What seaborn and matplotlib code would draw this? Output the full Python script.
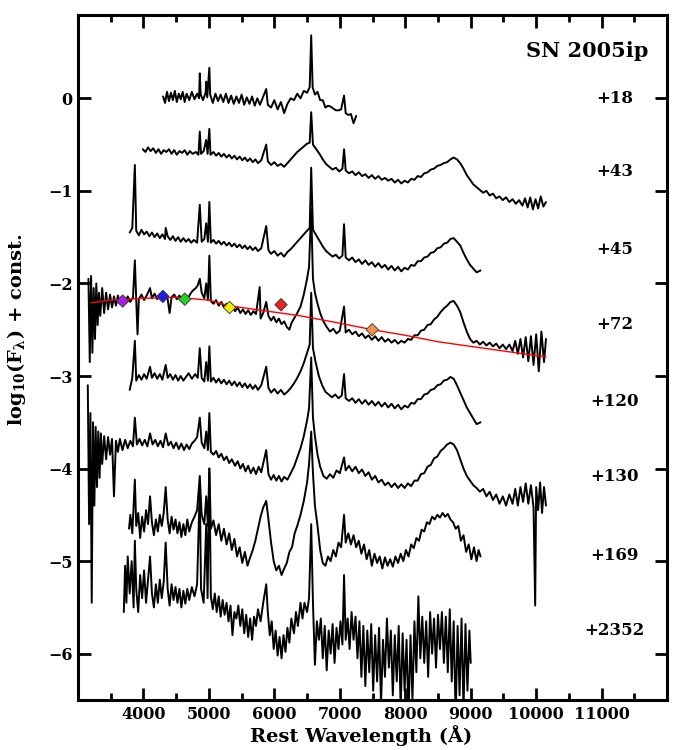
import matplotlib
matplotlib.use("Agg")
import matplotlib.pyplot as plt
import seaborn as sns
import pandas as pd
from matplotlib.ticker import MultipleLocator, FixedLocator

# ---------------- data ----------------
wl_18 = [4300, 4330, 4360, 4390, 4420, 4450, 4480, 4510, 4540, 4570, 4600, 4630, 4660, 4700, 4740, 4780, 4820, 4850, 4861, 4875, 4910, 4950, 4959, 4975, 5007, 5020, 5060, 5100, 5140, 5180, 5220, 5260, 5300, 5340, 5380, 5420, 5460, 5500, 5540, 5580, 5620, 5660, 5700, 5740, 5780, 5876, 5900, 5950, 6000, 6050, 6100, 6150, 6200, 6250, 6300, 6350, 6400, 6450, 6500, 6540, 6563, 6585, 6620, 6660, 6700, 6740, 6780, 6820, 6860, 6900, 6940, 6980, 7020, 7065, 7090, 7130, 7170, 7210, 7250]
fx_18 = [0.02, -0.05, 0.07, -0.03, 0.06, -0.02, 0.08, -0.04, 0.05, -0.01, 0.07, -0.04, 0.05, -0.02, 0.07, -0.01, 0.05, 0.00, 0.27, 0.04, -0.02, 0.06, 0.18, 0.01, 0.33, 0.04, -0.05, 0.05, -0.03, 0.04, -0.04, 0.05, -0.05, 0.03, -0.06, 0.02, -0.05, 0.04, -0.07, 0.01, -0.06, 0.02, -0.08, 0.00, -0.07, 0.10, -0.07, -0.10, -0.02, -0.12, -0.04, -0.16, -0.06, 0.00, -0.02, 0.05, 0.00, 0.08, 0.06, 0.12, 0.68, 0.12, 0.04, 0.07, -0.02, -0.02, -0.10, -0.08, -0.09, -0.11, -0.13, -0.13, -0.12, 0.03, -0.16, -0.18, -0.17, -0.27, -0.19]

wl_43 = [3990, 4030, 4070, 4110, 4150, 4190, 4230, 4270, 4310, 4350, 4390, 4430, 4470, 4510, 4550, 4590, 4630, 4670, 4710, 4750, 4800, 4840, 4861, 4880, 4920, 4959, 4980, 5007, 5025, 5070, 5110, 5150, 5190, 5230, 5270, 5310, 5350, 5390, 5430, 5470, 5510, 5550, 5590, 5630, 5670, 5710, 5750, 5800, 5876, 5900, 5950, 6000, 6050, 6100, 6150, 6200, 6250, 6300, 6350, 6400, 6450, 6500, 6540, 6563, 6590, 6640, 6690, 6740, 6790, 6840, 6890, 6940, 6990, 7040, 7065, 7090, 7140, 7190, 7240, 7290, 7340, 7390, 7440, 7490, 7540, 7590, 7640, 7690, 7740, 7790, 7840, 7890, 7940, 7990, 8040, 8090, 8140, 8190, 8240, 8290, 8340, 8390, 8440, 8490, 8540, 8590, 8640, 8690, 8740, 8790, 8840, 8890, 8940, 8990, 9040, 9090, 9140, 9190, 9240, 9290, 9340, 9390, 9440, 9490, 9540, 9590, 9640, 9690, 9740, 9790, 9830, 9870, 9910, 9950, 9990, 10030, 10070, 10110, 10150]
fx_43 = [-0.55, -0.58, -0.53, -0.57, -0.54, -0.59, -0.55, -0.60, -0.56, -0.58, -0.55, -0.60, -0.56, -0.61, -0.57, -0.59, -0.56, -0.61, -0.57, -0.60, -0.58, -0.61, -0.36, -0.60, -0.57, -0.45, -0.60, -0.33, -0.61, -0.58, -0.62, -0.59, -0.63, -0.60, -0.64, -0.61, -0.65, -0.62, -0.66, -0.63, -0.67, -0.64, -0.68, -0.65, -0.69, -0.66, -0.70, -0.67, -0.50, -0.68, -0.72, -0.69, -0.73, -0.71, -0.74, -0.70, -0.66, -0.62, -0.58, -0.55, -0.52, -0.49, -0.48, -0.15, -0.50, -0.55, -0.60, -0.66, -0.71, -0.74, -0.77, -0.75, -0.79, -0.76, -0.55, -0.78, -0.81, -0.79, -0.83, -0.80, -0.84, -0.82, -0.86, -0.83, -0.87, -0.84, -0.88, -0.86, -0.89, -0.87, -0.91, -0.88, -0.92, -0.89, -0.91, -0.87, -0.88, -0.84, -0.85, -0.81, -0.80, -0.77, -0.76, -0.73, -0.72, -0.70, -0.69, -0.66, -0.64, -0.66, -0.70, -0.76, -0.83, -0.88, -0.93, -0.96, -0.99, -1.02, -1.00, -1.05, -1.03, -1.08, -1.06, -1.10, -1.07, -1.12, -1.09, -1.14, -1.10, -1.16, -1.08, -1.18, -1.07, -1.20, -1.09, -1.19, -1.06, -1.17, -1.12]

wl_45 = [3790, 3830, 3869, 3890, 3930, 3970, 4010, 4050, 4090, 4130, 4170, 4210, 4250, 4290, 4330, 4340, 4370, 4410, 4450, 4490, 4530, 4570, 4610, 4650, 4690, 4730, 4770, 4820, 4861, 4890, 4930, 4959, 4985, 5007, 5030, 5070, 5110, 5150, 5190, 5230, 5270, 5310, 5350, 5390, 5430, 5470, 5510, 5550, 5590, 5630, 5670, 5710, 5750, 5800, 5876, 5910, 5950, 6000, 6050, 6100, 6150, 6200, 6250, 6300, 6350, 6400, 6450, 6500, 6540, 6563, 6590, 6640, 6690, 6740, 6790, 6840, 6890, 6940, 6990, 7040, 7065, 7090, 7140, 7190, 7240, 7290, 7340, 7390, 7440, 7490, 7540, 7590, 7640, 7690, 7740, 7790, 7840, 7890, 7940, 7990, 8040, 8090, 8140, 8190, 8240, 8290, 8340, 8390, 8440, 8490, 8540, 8590, 8640, 8690, 8740, 8790, 8840, 8890, 8940, 8990, 9040, 9090, 9150]
fx_45 = [-1.45, -1.40, -0.72, -1.43, -1.48, -1.42, -1.47, -1.44, -1.49, -1.45, -1.50, -1.46, -1.51, -1.47, -1.52, -1.40, -1.49, -1.53, -1.49, -1.54, -1.50, -1.55, -1.51, -1.55, -1.52, -1.56, -1.53, -1.56, -1.15, -1.55, -1.52, -1.35, -1.55, -1.12, -1.56, -1.53, -1.57, -1.54, -1.58, -1.55, -1.59, -1.56, -1.60, -1.57, -1.61, -1.58, -1.62, -1.59, -1.63, -1.60, -1.64, -1.61, -1.65, -1.62, -1.38, -1.64, -1.68, -1.65, -1.70, -1.67, -1.71, -1.66, -1.63, -1.59, -1.55, -1.51, -1.47, -1.43, -1.40, -0.75, -1.42, -1.48, -1.54, -1.60, -1.65, -1.68, -1.71, -1.69, -1.73, -1.70, -1.36, -1.72, -1.75, -1.72, -1.77, -1.74, -1.79, -1.75, -1.80, -1.77, -1.82, -1.78, -1.83, -1.80, -1.85, -1.81, -1.86, -1.82, -1.87, -1.83, -1.85, -1.80, -1.81, -1.76, -1.76, -1.72, -1.71, -1.67, -1.66, -1.62, -1.61, -1.57, -1.56, -1.52, -1.51, -1.55, -1.59, -1.67, -1.74, -1.80, -1.84, -1.88, -1.86]

wl_72 = [3160, 3180, 3200, 3220, 3240, 3260, 3280, 3300, 3320, 3340, 3370, 3400, 3430, 3460, 3490, 3520, 3550, 3580, 3610, 3640, 3680, 3720, 3760, 3800, 3840, 3869, 3890, 3910, 3930, 3970, 4010, 4050, 4101, 4130, 4170, 4210, 4250, 4290, 4330, 4370, 4400, 4430, 4470, 4510, 4550, 4590, 4630, 4670, 4710, 4750, 4800, 4830, 4861, 4890, 4930, 4959, 4985, 5007, 5030, 5070, 5110, 5150, 5190, 5230, 5270, 5310, 5350, 5400, 5440, 5480, 5520, 5560, 5600, 5640, 5680, 5720, 5776, 5790, 5830, 5876, 5910, 5950, 5990, 6030, 6070, 6110, 6150, 6190, 6230, 6260, 6300, 6350, 6400, 6450, 6500, 6530, 6563, 6590, 6620, 6660, 6700, 6750, 6800, 6850, 6900, 6950, 7000, 7065, 7090, 7140, 7190, 7240, 7290, 7340, 7390, 7440, 7490, 7540, 7590, 7640, 7690, 7740, 7790, 7840, 7890, 7940, 7990, 8040, 8090, 8140, 8190, 8240, 8290, 8340, 8390, 8440, 8490, 8540, 8590, 8640, 8690, 8740, 8790, 8840, 8890, 8940, 8990, 9040, 9090, 9140, 9190, 9240, 9290, 9340, 9390, 9440, 9490, 9540, 9590, 9640, 9680, 9720, 9760, 9800, 9840, 9880, 9920, 9960, 10000, 10040, 10080, 10120, 10150]
fx_72 = [-1.95, -2.85, -1.92, -2.75, -2.05, -2.60, -2.00, -2.45, -2.10, -2.35, -2.05, -2.32, -2.10, -2.28, -2.12, -2.26, -2.14, -2.24, -2.13, -2.22, -2.15, -2.21, -2.14, -2.20, -2.15, -1.75, -2.18, -2.55, -2.17, -2.12, -2.18, -2.13, -2.05, -2.16, -2.11, -2.17, -2.12, -2.16, -2.11, -2.17, -2.32, -2.15, -2.12, -2.17, -2.13, -2.18, -2.14, -2.18, -2.12, -2.08, -2.05, -2.02, -1.95, -2.10, -2.16, -2.00, -2.18, -1.70, -2.19, -2.22, -2.18, -2.24, -2.20, -2.26, -2.22, -2.28, -2.24, -2.30, -2.26, -2.32, -2.28, -2.33, -2.29, -2.34, -2.30, -2.33, -2.04, -2.38, -2.32, -2.20, -2.35, -2.40, -2.36, -2.42, -2.38, -2.44, -2.41, -2.47, -2.50, -2.43, -2.38, -2.32, -2.25, -2.12, -1.95, -1.82, -1.20, -1.95, -2.10, -2.22, -2.32, -2.41, -2.47, -2.52, -2.49, -2.54, -2.51, -2.25, -2.53, -2.50, -2.55, -2.52, -2.57, -2.54, -2.59, -2.56, -2.61, -2.57, -2.62, -2.58, -2.63, -2.60, -2.64, -2.61, -2.65, -2.62, -2.64, -2.60, -2.61, -2.56, -2.56, -2.51, -2.50, -2.45, -2.44, -2.39, -2.36, -2.31, -2.27, -2.24, -2.20, -2.19, -2.24, -2.31, -2.42, -2.52, -2.60, -2.64, -2.62, -2.66, -2.63, -2.67, -2.64, -2.68, -2.65, -2.70, -2.66, -2.71, -2.66, -2.73, -2.62, -2.76, -2.60, -2.80, -2.58, -2.84, -2.57, -2.88, -2.55, -2.95, -2.52, -2.85, -2.60]

wl_120 = [3790, 3830, 3869, 3890, 3930, 3970, 4010, 4050, 4101, 4130, 4170, 4210, 4250, 4290, 4340, 4370, 4410, 4450, 4490, 4530, 4570, 4610, 4650, 4690, 4740, 4790, 4830, 4861, 4890, 4930, 4959, 4985, 5007, 5030, 5070, 5110, 5150, 5190, 5230, 5270, 5310, 5350, 5390, 5430, 5470, 5510, 5550, 5590, 5630, 5670, 5710, 5750, 5800, 5876, 5910, 5950, 6000, 6050, 6100, 6150, 6200, 6250, 6300, 6350, 6400, 6450, 6500, 6540, 6563, 6590, 6630, 6680, 6730, 6780, 6830, 6880, 6930, 6980, 7030, 7065, 7090, 7140, 7190, 7240, 7290, 7340, 7390, 7440, 7490, 7540, 7590, 7640, 7690, 7740, 7790, 7840, 7890, 7940, 7990, 8040, 8090, 8140, 8190, 8240, 8290, 8340, 8390, 8440, 8490, 8540, 8590, 8640, 8690, 8740, 8790, 8840, 8890, 8940, 8990, 9040, 9090, 9150]
fx_120 = [-3.15, -3.02, -2.62, -3.05, -2.99, -3.04, -2.98, -3.03, -2.90, -3.02, -2.97, -3.03, -2.98, -3.04, -2.88, -3.02, -2.98, -3.04, -2.99, -3.05, -3.00, -3.05, -3.01, -2.97, -3.03, -2.98, -3.02, -2.70, -3.02, -3.06, -2.85, -3.05, -2.68, -3.06, -3.02, -3.07, -3.03, -3.08, -3.04, -3.09, -3.05, -3.10, -3.06, -3.11, -3.07, -3.12, -3.08, -3.13, -3.09, -3.14, -3.10, -3.15, -3.10, -2.90, -3.13, -3.18, -3.14, -3.19, -3.15, -3.20, -3.17, -3.13, -3.08, -3.02, -2.95, -2.86, -2.75, -2.66, -2.10, -2.70, -2.85, -3.00, -3.10, -3.17, -3.20, -3.23, -3.20, -3.24, -3.21, -2.98, -3.24, -3.27, -3.24, -3.29, -3.25, -3.30, -3.26, -3.31, -3.27, -3.32, -3.28, -3.33, -3.29, -3.34, -3.30, -3.35, -3.31, -3.36, -3.32, -3.34, -3.29, -3.30, -3.25, -3.25, -3.20, -3.19, -3.15, -3.14, -3.10, -3.09, -3.05, -3.04, -3.01, -3.03, -3.10, -3.18, -3.26, -3.34, -3.40, -3.46, -3.52, -3.50]

wl_130 = [3150, 3170, 3190, 3210, 3230, 3250, 3270, 3290, 3310, 3330, 3350, 3370, 3400, 3430, 3460, 3490, 3520, 3550, 3580, 3610, 3640, 3680, 3720, 3760, 3800, 3840, 3869, 3900, 3940, 3980, 4020, 4060, 4101, 4140, 4180, 4220, 4260, 4300, 4340, 4380, 4420, 4460, 4500, 4540, 4580, 4620, 4660, 4700, 4740, 4780, 4820, 4861, 4890, 4930, 4959, 4985, 5007, 5030, 5070, 5110, 5150, 5190, 5230, 5270, 5310, 5350, 5400, 5440, 5480, 5520, 5560, 5600, 5640, 5680, 5720, 5760, 5800, 5876, 5910, 5950, 5990, 6030, 6070, 6110, 6150, 6200, 6250, 6300, 6350, 6400, 6450, 6500, 6530, 6563, 6590, 6620, 6660, 6700, 6750, 6800, 6850, 6900, 6950, 7000, 7065, 7090, 7140, 7190, 7240, 7290, 7340, 7390, 7440, 7490, 7540, 7590, 7640, 7690, 7740, 7790, 7840, 7890, 7940, 7990, 8040, 8090, 8140, 8190, 8240, 8290, 8340, 8390, 8440, 8490, 8540, 8590, 8640, 8690, 8740, 8790, 8840, 8890, 8940, 8990, 9040, 9090, 9140, 9190, 9240, 9290, 9340, 9390, 9440, 9490, 9540, 9590, 9640, 9680, 9720, 9760, 9800, 9840, 9880, 9920, 9960, 9985, 10000, 10030, 10060, 10090, 10120, 10150]
fx_130 = [-3.10, -4.60, -3.40, -5.45, -3.50, -4.40, -3.55, -4.20, -3.60, -4.10, -3.62, -3.95, -3.65, -3.90, -3.66, -3.85, -3.68, -4.30, -3.70, -3.82, -3.68, -3.80, -3.69, -3.78, -3.70, -3.76, -3.45, -3.74, -3.68, -3.75, -3.69, -3.76, -3.62, -3.74, -3.69, -3.76, -3.70, -3.77, -3.62, -3.75, -3.71, -3.78, -3.72, -3.79, -3.73, -3.80, -3.74, -3.79, -3.73, -3.70, -3.66, -3.45, -3.72, -3.78, -3.60, -3.80, -3.40, -3.82, -3.85, -3.81, -3.88, -3.84, -3.91, -3.87, -3.94, -3.90, -3.97, -3.92, -4.00, -3.95, -4.03, -3.97, -4.05, -3.99, -4.06, -3.98, -4.04, -3.80, -4.06, -4.12, -4.07, -4.13, -4.08, -4.14, -4.09, -4.12, -4.05, -3.98, -3.88, -3.78, -3.65, -3.48, -3.35, -2.80, -3.45, -3.65, -3.85, -3.98, -4.08, -4.11, -4.06, -4.10, -4.02, -4.05, -3.88, -4.02, -3.97, -4.03, -3.98, -4.05, -4.01, -4.08, -4.04, -4.12, -4.08, -4.15, -4.12, -4.18, -4.15, -4.20, -4.16, -4.21, -4.17, -4.21, -4.16, -4.19, -4.13, -4.13, -4.06, -4.05, -3.98, -3.96, -3.89, -3.87, -3.81, -3.78, -3.74, -3.72, -3.74, -3.80, -3.90, -4.00, -4.08, -4.13, -4.18, -4.21, -4.25, -4.22, -4.30, -4.25, -4.34, -4.28, -4.38, -4.30, -4.40, -4.28, -4.38, -4.22, -4.40, -4.20, -4.36, -4.16, -4.38, -4.18, -4.42, -5.48, -4.20, -4.45, -4.15, -4.48, -4.20, -4.40]

wl_169 = [3780, 3800, 3830, 3869, 3890, 3920, 3950, 3980, 4010, 4040, 4070, 4101, 4130, 4160, 4190, 4220, 4250, 4280, 4310, 4340, 4370, 4400, 4430, 4460, 4490, 4520, 4550, 4580, 4610, 4640, 4670, 4700, 4740, 4780, 4820, 4861, 4890, 4930, 4959, 4985, 5007, 5030, 5070, 5110, 5150, 5190, 5230, 5270, 5310, 5350, 5390, 5430, 5470, 5510, 5550, 5590, 5630, 5670, 5710, 5750, 5790, 5830, 5876, 5910, 5950, 5990, 6030, 6070, 6110, 6150, 6190, 6230, 6270, 6310, 6350, 6400, 6450, 6500, 6530, 6563, 6590, 6620, 6660, 6700, 6740, 6780, 6820, 6860, 6900, 6940, 6980, 7020, 7065, 7090, 7130, 7170, 7210, 7250, 7290, 7330, 7370, 7410, 7450, 7490, 7530, 7570, 7610, 7650, 7690, 7730, 7770, 7810, 7850, 7890, 7930, 7970, 8010, 8050, 8090, 8130, 8170, 8210, 8250, 8290, 8330, 8370, 8410, 8450, 8490, 8530, 8570, 8610, 8650, 8690, 8730, 8770, 8810, 8850, 8890, 8930, 8970, 9010, 9050, 9090, 9120, 9150]
fx_169 = [-4.65, -4.50, -4.70, -4.12, -4.62, -4.48, -4.75, -4.52, -4.68, -4.45, -4.60, -4.30, -4.58, -4.72, -4.55, -4.68, -4.50, -4.62, -4.48, -4.20, -4.55, -4.70, -4.52, -4.66, -4.55, -4.70, -4.58, -4.74, -4.60, -4.72, -4.55, -4.68, -4.58, -4.52, -4.45, -4.08, -4.50, -4.60, -4.30, -4.62, -4.00, -4.65, -4.56, -4.72, -4.60, -4.78, -4.65, -4.82, -4.70, -4.88, -4.76, -4.95, -4.85, -5.02, -4.90, -5.05, -4.96, -4.88, -4.78, -4.65, -4.52, -4.42, -4.35, -4.55, -4.80, -5.00, -5.10, -5.05, -5.15, -5.08, -5.02, -4.90, -4.85, -4.70, -4.62, -4.50, -4.35, -4.15, -3.95, -3.60, -4.05, -4.40, -4.62, -4.88, -5.02, -5.05, -4.95, -5.00, -4.88, -4.95, -4.80, -4.85, -4.50, -4.80, -4.70, -4.82, -4.72, -4.85, -4.78, -4.92, -4.82, -4.98, -4.88, -5.05, -4.92, -5.02, -4.95, -5.08, -4.96, -5.05, -4.98, -5.06, -4.95, -5.02, -4.92, -5.00, -4.88, -4.95, -4.82, -4.86, -4.75, -4.78, -4.66, -4.68, -4.58, -4.60, -4.52, -4.55, -4.50, -4.53, -4.48, -4.52, -4.49, -4.55, -4.58, -4.65, -4.62, -4.78, -4.72, -4.90, -4.82, -4.98, -4.85, -5.00, -4.88, -4.95]

wl_2352 = [3700, 3720, 3740, 3760, 3790, 3820, 3850, 3869, 3890, 3920, 3950, 3980, 4010, 4040, 4070, 4101, 4130, 4160, 4190, 4220, 4250, 4280, 4310, 4340, 4370, 4400, 4430, 4460, 4490, 4520, 4550, 4580, 4610, 4640, 4670, 4700, 4740, 4780, 4820, 4861, 4880, 4920, 4959, 4980, 5007, 5030, 5060, 5090, 5120, 5150, 5180, 5210, 5240, 5270, 5300, 5330, 5360, 5390, 5420, 5450, 5480, 5510, 5540, 5570, 5600, 5630, 5660, 5690, 5720, 5750, 5790, 5830, 5876, 5900, 5930, 5960, 5990, 6020, 6050, 6080, 6110, 6140, 6170, 6200, 6230, 6260, 6300, 6330, 6360, 6400, 6430, 6460, 6500, 6530, 6563, 6590, 6620, 6650, 6680, 6710, 6740, 6770, 6800, 6830, 6860, 6890, 6920, 6950, 6980, 7010, 7040, 7065, 7090, 7120, 7150, 7180, 7210, 7240, 7270, 7300, 7330, 7360, 7390, 7420, 7450, 7480, 7510, 7540, 7570, 7600, 7630, 7660, 7690, 7720, 7750, 7780, 7810, 7840, 7870, 7900, 7930, 7960, 7990, 8020, 8050, 8080, 8110, 8140, 8170, 8200, 8230, 8260, 8290, 8320, 8350, 8380, 8410, 8440, 8470, 8500, 8530, 8560, 8590, 8620, 8650, 8680, 8710, 8740, 8770, 8800, 8830, 8860, 8890, 8920, 8950, 8980, 9000]
fx_2352 = [-5.55, -5.05, -5.45, -4.95, -5.35, -5.00, -5.50, -4.78, -5.30, -5.55, -5.15, -5.40, -5.10, -5.45, -5.20, -4.95, -5.35, -5.50, -5.25, -5.45, -5.20, -5.40, -5.22, -4.80, -5.30, -5.48, -5.25, -5.42, -5.28, -5.45, -5.30, -5.50, -5.32, -5.46, -5.30, -5.42, -5.28, -5.38, -5.25, -4.20, -5.30, -5.45, -4.60, -5.40, -4.00, -5.38, -5.52, -5.35, -5.55, -5.38, -5.60, -5.42, -5.58, -5.45, -5.65, -5.48, -5.80, -5.55, -5.62, -5.48, -5.70, -5.52, -5.78, -5.58, -5.82, -5.62, -5.85, -5.60, -5.70, -5.52, -5.65, -5.45, -5.25, -5.55, -5.80, -5.65, -5.95, -5.75, -6.02, -5.82, -6.05, -5.80, -5.98, -5.72, -5.88, -5.62, -5.78, -5.55, -5.70, -5.45, -5.62, -5.45, -5.55, -5.40, -4.60, -5.45, -6.12, -5.65, -5.85, -5.62, -6.05, -5.70, -6.18, -5.75, -6.00, -5.68, -6.10, -5.72, -5.95, -5.65, -5.90, -5.15, -5.85, -5.62, -5.95, -5.55, -5.85, -5.60, -6.05, -5.65, -6.25, -5.70, -6.35, -5.75, -6.20, -5.68, -6.40, -5.80, -6.30, -5.72, -6.55, -5.85, -6.25, -5.62, -6.15, -5.75, -6.45, -5.80, -6.30, -5.70, -6.60, -5.78, -6.40, -5.85, -6.70, -5.80, -6.50, -5.65, -6.20, -5.38, -6.05, -5.60, -6.10, -5.65, -6.25, -5.55, -6.00, -5.62, -6.15, -5.58, -5.95, -5.55, -6.10, -5.60, -6.20, -5.52, -6.30, -5.65, -6.70, -5.70, -6.45, -5.62, -6.60, -5.68, -6.40, -5.75, -6.10]

# continuum fit drawn over the +72 spectrum
fit_wl = [3200, 3500, 4000, 4500, 5000, 5300, 6000, 6400, 7000, 7500, 8000, 8500, 9000, 9500, 10000, 10150]
fit_fx = [-2.21, -2.18, -2.16, -2.15, -2.18, -2.24, -2.31, -2.35, -2.43, -2.50, -2.56, -2.63, -2.68, -2.73, -2.78, -2.79]

# photometry points on the +72 spectrum
phot_wl = [3683, 4297, 4632, 5316, 6102, 7495]
phot_fx = [-2.19, -2.14, -2.17, -2.26, -2.23, -2.50]
phot_colors = ["#a61ee0", "#1f1fe8", "#22d022", "#eeee00", "#ee2020", "#f0924a"]

epoch_labels = ["+18", "+43", "+45", "+72", "+120", "+130", "+169", "+2352"]
epoch_y = [0.0, -0.79, -1.63, -2.44, -3.28, -4.09, -4.94, -5.75]

# ---------------- plotting ----------------
sns.set_style("ticks")
plt.rcParams["font.family"] = ["DejaVu Serif"]
plt.rcParams["font.weight"] = "bold"
plt.rcParams["mathtext.fontset"] = "dejavuserif"
plt.rcParams["mathtext.default"] = "bf"
for key in ["text.color", "axes.labelcolor", "xtick.color", "ytick.color", "axes.edgecolor"]:
    plt.rcParams[key] = "black"

fig = plt.figure(figsize=(6.87, 7.5), dpi=100)
ax = fig.add_axes([0.1135, 0.0667, 0.8575, 0.9133])

spectra = [(wl_18, fx_18), (wl_43, fx_43), (wl_45, fx_45), (wl_72, fx_72),
           (wl_120, fx_120), (wl_130, fx_130), (wl_169, fx_169), (wl_2352, fx_2352)]
for wl, fx in spectra:
    df = pd.DataFrame({"wl": wl, "fx": fx})
    sns.lineplot(data=df, x="wl", y="fx", ax=ax, color="black", lw=1.4,
                 estimator=None, sort=False, legend=False)

dfit = pd.DataFrame({"wl": fit_wl, "fx": fit_fx})
sns.lineplot(data=dfit, x="wl", y="fx", ax=ax, color="red", lw=1.0,
             estimator=None, sort=False, legend=False)

dph = pd.DataFrame({"wl": phot_wl, "fx": phot_fx, "c": phot_colors})
sns.scatterplot(data=dph, x="wl", y="fx", hue="c", palette={c: c for c in phot_colors},
                marker="D", s=40, edgecolor="#333333", linewidth=0.6, ax=ax,
                legend=False, zorder=5)

ax.set_xlim(3000, 12000)
ax.set_ylim(-6.5, 0.9)
ax.xaxis.set_major_locator(FixedLocator([4000, 5000, 6000, 7000, 8000, 9000, 10000, 11000]))
ax.xaxis.set_minor_locator(MultipleLocator(500))
ax.yaxis.set_major_locator(FixedLocator([0, -1, -2, -3, -4, -5, -6]))
ax.tick_params(axis="both", which="major", direction="in", length=9, width=2,
               top=True, right=True, labelsize=11.5, pad=4, colors="black")
ax.tick_params(axis="x", which="minor", direction="in", length=5, width=2, top=True)
ax.tick_params(axis="y", which="minor", left=False, right=False)
for lab in ax.get_xticklabels() + ax.get_yticklabels():
    lab.set_fontweight("bold")
for sp in ax.spines.values():
    sp.set_linewidth(2.2)
    sp.set_color("black")

ax.set_xlabel("Rest Wavelength (Å)", fontsize=14, fontweight="bold")
ax.set_ylabel(r"log$_{10}$(F$_\lambda$) + const.", fontsize=14, fontweight="bold")
ax.xaxis.set_label_coords(0.48, -0.036)
ax.yaxis.set_label_coords(-0.085, 0.54)

ax.text(10780, 0.51, "SN 2005ip", fontsize=15, fontweight="bold", ha="center", va="center")
for lab, yv in zip(epoch_labels, epoch_y):
    ax.text(11200, yv, lab, fontsize=12, fontweight="bold", ha="center", va="center")

fig.savefig("out.png", dpi=100)
